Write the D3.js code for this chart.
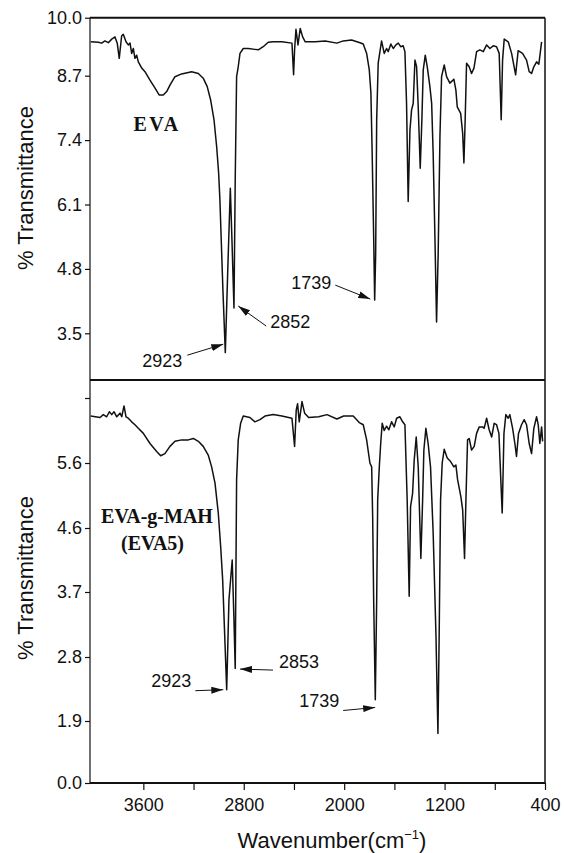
<!DOCTYPE html>
<html>
<head>
<meta charset="utf-8">
<title>FTIR spectra of EVA and EVA-g-MAH</title>
<script src="https://cdn.jsdelivr.net/npm/d3@7"></script>
<style>
  body { margin: 0; background: #fff; }
  svg text { font-family: "Liberation Sans", Arial, sans-serif; fill: #111; }
  .tick text { font-size: 18px; }
  .panel-label { font-family: "Liberation Serif", "Times New Roman", serif !important; font-weight: bold; font-size: 20px; }
</style>
</head>
<body>
<div id="chart"></div>
<script>
// ---- data (wavenumber in cm-1, % transmittance) ----
const evaWn = [4019,3959,3932,3906,3879,3852,3826,3808,3792,3773,3760,3738,3720,3706,3693,3680,3667,3653,3640,3613,
  3587,3547,3507,3473,3441,3414,3388,3348,3295,3215,3162,3123,3091,3064,3037,3016,3000,2990,2966,2947,
  2925,2907,2894,2878,2868,2857,2844,2830,2804,2764,2711,2684,2645,2605,2565,2496,2416,2403,2395,2384,
  2368,2350,2331,2310,2231,2151,2058,2007,1941,1874,1848,1821,1800,1787,1777,1765,1757,1749,1741,1729,
  1702,1681,1662,1649,1628,1609,1588,1569,1550,1530,1516,1503,1490,1476,1463,1450,1436,1423,1410,1394,
  1381,1370,1354,1338,1317,1303,1291,1277,1264,1251,1237,1224,1203,1184,1158,1126,1110,1099,1072,1056,
  1046,1036,1025,1004,985,966,945,919,892,865,839,813,786,765,749,738,725,693,666,634,
  614,579,547,526,507,489,467,449,427];
const evaT = [9.46,9.45,9.43,9.48,9.44,9.52,9.57,9.43,9.09,9.59,9.63,9.46,9.39,9.43,9.20,9.31,9.09,9.16,9.01,8.87,
  8.79,8.61,8.45,8.31,8.31,8.38,8.51,8.68,8.74,8.79,8.75,8.65,8.48,8.21,7.81,7.27,6.73,6.19,4.37,3.11,
  4.98,6.43,5.38,4.01,6.59,8.68,8.90,9.20,9.31,9.31,9.29,9.28,9.35,9.45,9.46,9.46,9.43,8.72,9.28,9.74,
  9.39,9.76,9.57,9.46,9.46,9.48,9.43,9.48,9.50,9.44,9.41,9.20,8.83,8.35,7.14,5.45,4.17,5.12,7.81,8.98,
  9.48,9.20,9.31,9.24,9.41,9.31,9.39,9.43,9.35,9.37,9.24,8.14,6.16,7.60,8.01,8.14,9.05,8.90,8.07,6.83,
  7.81,8.83,9.16,8.90,8.48,8.14,7.13,5.45,3.73,5.12,7.47,8.68,8.94,8.68,8.55,8.63,8.41,8.07,7.94,7.54,
  6.94,7.81,8.98,8.90,8.75,8.87,9.24,9.28,9.24,9.39,9.31,9.37,9.35,9.20,7.81,9.05,9.52,9.46,9.20,8.72,
  9.26,9.20,9.05,8.79,8.75,8.90,9.01,8.96,9.46];

const mahWn = [4019,3945,3919,3892,3871,3852,3834,3812,3786,3772,3754,3738,3720,3693,3667,3640,3600,3547,3494,3462,
  3428,3388,3348,3295,3242,3202,3162,3123,3083,3056,3029,3003,2984,2968,2936,2918,2892,2878,2868,2857,
  2844,2825,2804,2751,2711,2671,2631,2565,2496,2416,2395,2382,2371,2358,2336,2315,2283,2203,2137,2058,
  2004,1928,1880,1848,1821,1795,1781,1773,1765,1752,1741,1733,1720,1709,1697,1681,1662,1644,1622,1601,
  1582,1556,1534,1516,1498,1482,1471,1455,1442,1426,1410,1389,1375,1365,1349,1331,1312,1291,1269,1253,
  1243,1232,1219,1203,1179,1152,1126,1110,1096,1070,1056,1041,1030,1017,1004,985,964,945,924,897,
  885,865,845,825,805,786,767,751,741,727,712,693,680,658,640,627,611,587,566,547,
  526,507,489,467,454,441,427,419];
const mahT = [6.25,6.23,6.27,6.24,6.31,6.27,6.31,6.24,6.29,6.24,6.39,6.24,6.22,6.17,6.13,6.08,6.01,5.87,5.76,5.70,
  5.73,5.83,5.90,5.92,5.92,5.94,5.90,5.83,5.71,5.54,5.29,4.83,4.34,3.87,2.34,3.59,4.15,3.31,2.64,5.34,
  5.92,6.15,6.25,6.23,6.17,6.20,6.25,6.27,6.25,6.22,5.83,6.33,6.42,6.17,6.45,6.29,6.23,6.24,6.27,6.21,
  6.25,6.25,6.16,6.13,5.92,5.60,5.54,4.77,3.59,2.20,3.59,5.03,5.54,5.87,6.15,6.05,6.11,6.06,6.17,6.10,
  6.22,6.24,6.17,6.13,5.03,3.64,4.93,5.13,5.64,5.96,5.54,4.17,5.03,5.78,6.08,5.87,5.54,4.53,3.13,1.52,
  3.13,5.03,5.60,5.79,5.67,5.62,5.54,5.57,5.34,5.08,4.88,4.17,5.03,5.92,5.94,5.78,5.83,6.01,6.10,6.10,
  6.08,6.22,6.06,5.96,6.15,6.13,6.01,5.29,4.83,6.01,6.27,6.22,6.27,6.08,5.87,5.69,6.01,6.13,6.20,6.13,
  5.87,5.73,6.08,6.24,6.13,5.87,6.10,5.90];

// tick values
const xMajor = [3600, 2800, 2000, 1200, 400];
const xMinor = [3200, 2400, 1600, 800];
const topTicks = [3.5, 4.8, 6.1, 7.4, 8.7, 10.0];
const botTicks = [0.0, 1.9, 2.8, 3.7, 4.6, 5.6, 6.5];
const botLabelled = [0.0, 1.9, 2.8, 3.7, 4.6, 5.6];

// peak call-outs: tip at (wn, t), tail / text offsets in px
const topNotes = [
  { label: "2923", wn: 2963, t: 3.28, tail: [-36, 11], text: [-61, 23], anchor: "middle" },
  { label: "2852", wn: 2844, t: 4.05, tail: [28, 20], text: [32, 22], anchor: "start" },
  { label: "1739", wn: 1792, t: 4.19, tail: [-35, -14], text: [-59, -10], anchor: "middle" }
];
const botNotes = [
  { label: "2923", wn: 2963, t: 2.34, tail: [-28, 1], text: [-52, -3], anchor: "middle" },
  { label: "2853", wn: 2830, t: 2.63, tail: [33, 1], text: [39, -1], anchor: "start" },
  { label: "1739", wn: 1753, t: 2.09, tail: [-32, 3], text: [-56, 0], anchor: "middle" }
];

// ---- layout ----
const width = 564, height = 853;
const left = 90, right = 545;
const top1 = 17.7, mid = 380, bottom2 = 783;

const svg = d3.select("#chart").append("svg")
  .attr("width", width).attr("height", height);

svg.append("defs").append("marker")
  .attr("id", "arrow")
  .attr("viewBox", "0 0 12 7")
  .attr("refX", 12).attr("refY", 3.5)
  .attr("markerWidth", 12).attr("markerHeight", 7)
  .attr("markerUnits", "userSpaceOnUse")
  .attr("orient", "auto")
  .append("path").attr("d", "M0,0 L12,3.5 L0,7 Z").attr("fill", "#111");

const x = d3.scaleLinear().domain([4025, 400]).range([left, right]);
// the scan's y axes are not evenly graduated, so use piecewise scales
const yTop = d3.scaleLinear().domain([3.5, 8.7, 10.0]).range([333.3, 75.7, top1]);
const yBot = d3.scaleLinear().domain(botTicks).range([783, 721, 657, 592, 528, 463, 398]);

function drawSpectrum(wn, t, y) {
  const line = d3.line()
    .x(d => x(d[0]))
    .y(d => y(d[1]));
  svg.append("path")
    .datum(d3.zip(wn, t))
    .attr("fill", "none")
    .attr("stroke", "#111")
    .attr("stroke-width", 1.5)
    .attr("stroke-linejoin", "round")
    .attr("d", line);
}
drawSpectrum(evaWn, evaT, yTop);
drawSpectrum(mahWn, mahT, yBot);

// y axes
const gTop = svg.append("g").attr("transform", `translate(${left},0)`)
  .call(d3.axisLeft(yTop).tickValues(topTicks).tickFormat(d3.format(".1f")).tickSize(5).tickPadding(3));
const gBot = svg.append("g").attr("transform", `translate(${left},0)`)
  .call(d3.axisLeft(yBot).tickValues(botTicks)
    .tickFormat(d => botLabelled.includes(d) ? d3.format(".1f")(d) : "")
    .tickSize(5).tickPadding(3));
[gTop, gBot].forEach(g => g.select(".domain").remove());

// x axis
const gX = svg.append("g").attr("transform", `translate(0,${bottom2})`)
  .call(d3.axisBottom(x).tickValues(xMajor.concat(xMinor))
    .tickFormat(d => xMajor.includes(d) ? d : "")
    .tickSize(7).tickPadding(8));
gX.select(".domain").remove();

svg.selectAll(".tick line").attr("stroke", "#111").attr("stroke-width", 1.2);

// frame
const frame = svg.append("g").attr("stroke", "#111").attr("fill", "none");
frame.append("line").attr("x1", left).attr("x2", right).attr("y1", top1).attr("y2", top1).attr("stroke-width", 2);
frame.append("line").attr("x1", left).attr("x2", right).attr("y1", mid).attr("y2", mid).attr("stroke-width", 2);
frame.append("line").attr("x1", left).attr("x2", right).attr("y1", bottom2).attr("y2", bottom2).attr("stroke-width", 2);
frame.append("line").attr("x1", left).attr("x2", left).attr("y1", top1).attr("y2", bottom2).attr("stroke-width", 1.2);
frame.append("line").attr("x1", right).attr("x2", right).attr("y1", top1).attr("y2", bottom2).attr("stroke-width", 1.5);

// peak call-outs
function drawNotes(notes, y) {
  const g = svg.append("g");
  notes.forEach(n => {
    const tx = x(n.wn), ty = y(n.t);
    g.append("line")
      .attr("x1", tx + n.tail[0]).attr("y1", ty + n.tail[1])
      .attr("x2", tx).attr("y2", ty)
      .attr("stroke", "#111").attr("stroke-width", 1)
      .attr("marker-end", "url(#arrow)");
    g.append("text")
      .attr("x", tx + n.text[0]).attr("y", ty + n.text[1])
      .attr("text-anchor", n.anchor)
      .attr("font-size", 18)
      .text(n.label);
  });
}
drawNotes(topNotes, yTop);
drawNotes(botNotes, yBot);

// sample names
svg.append("text").attr("class", "panel-label")
  .attr("x", 157).attr("y", 130.7).attr("text-anchor", "middle")
  .attr("letter-spacing", 2.5).text("EVA");
svg.append("text").attr("class", "panel-label")
  .attr("x", 157).attr("y", 523.3).attr("text-anchor", "middle").text("EVA-g-MAH");
svg.append("text").attr("class", "panel-label")
  .attr("x", 152.5).attr("y", 550).attr("text-anchor", "middle").attr("font-size", 18).text("(EVA5)");

// axis titles
[188, 578].forEach(cy => {
  svg.append("text")
    .attr("transform", `translate(33,${cy}) rotate(-90)`)
    .attr("text-anchor", "middle")
    .attr("font-size", 22)
    .text("% Transmittance");
});
const xt = svg.append("text")
  .attr("x", 332).attr("y", 848)
  .attr("text-anchor", "middle")
  .attr("font-size", 22);
xt.append("tspan").text("Wavenumber(cm");
xt.append("tspan").attr("font-size", 13).attr("dy", -9).text("\u22121");
xt.append("tspan").attr("dy", 9).text(")");
</script>
</body>
</html>
